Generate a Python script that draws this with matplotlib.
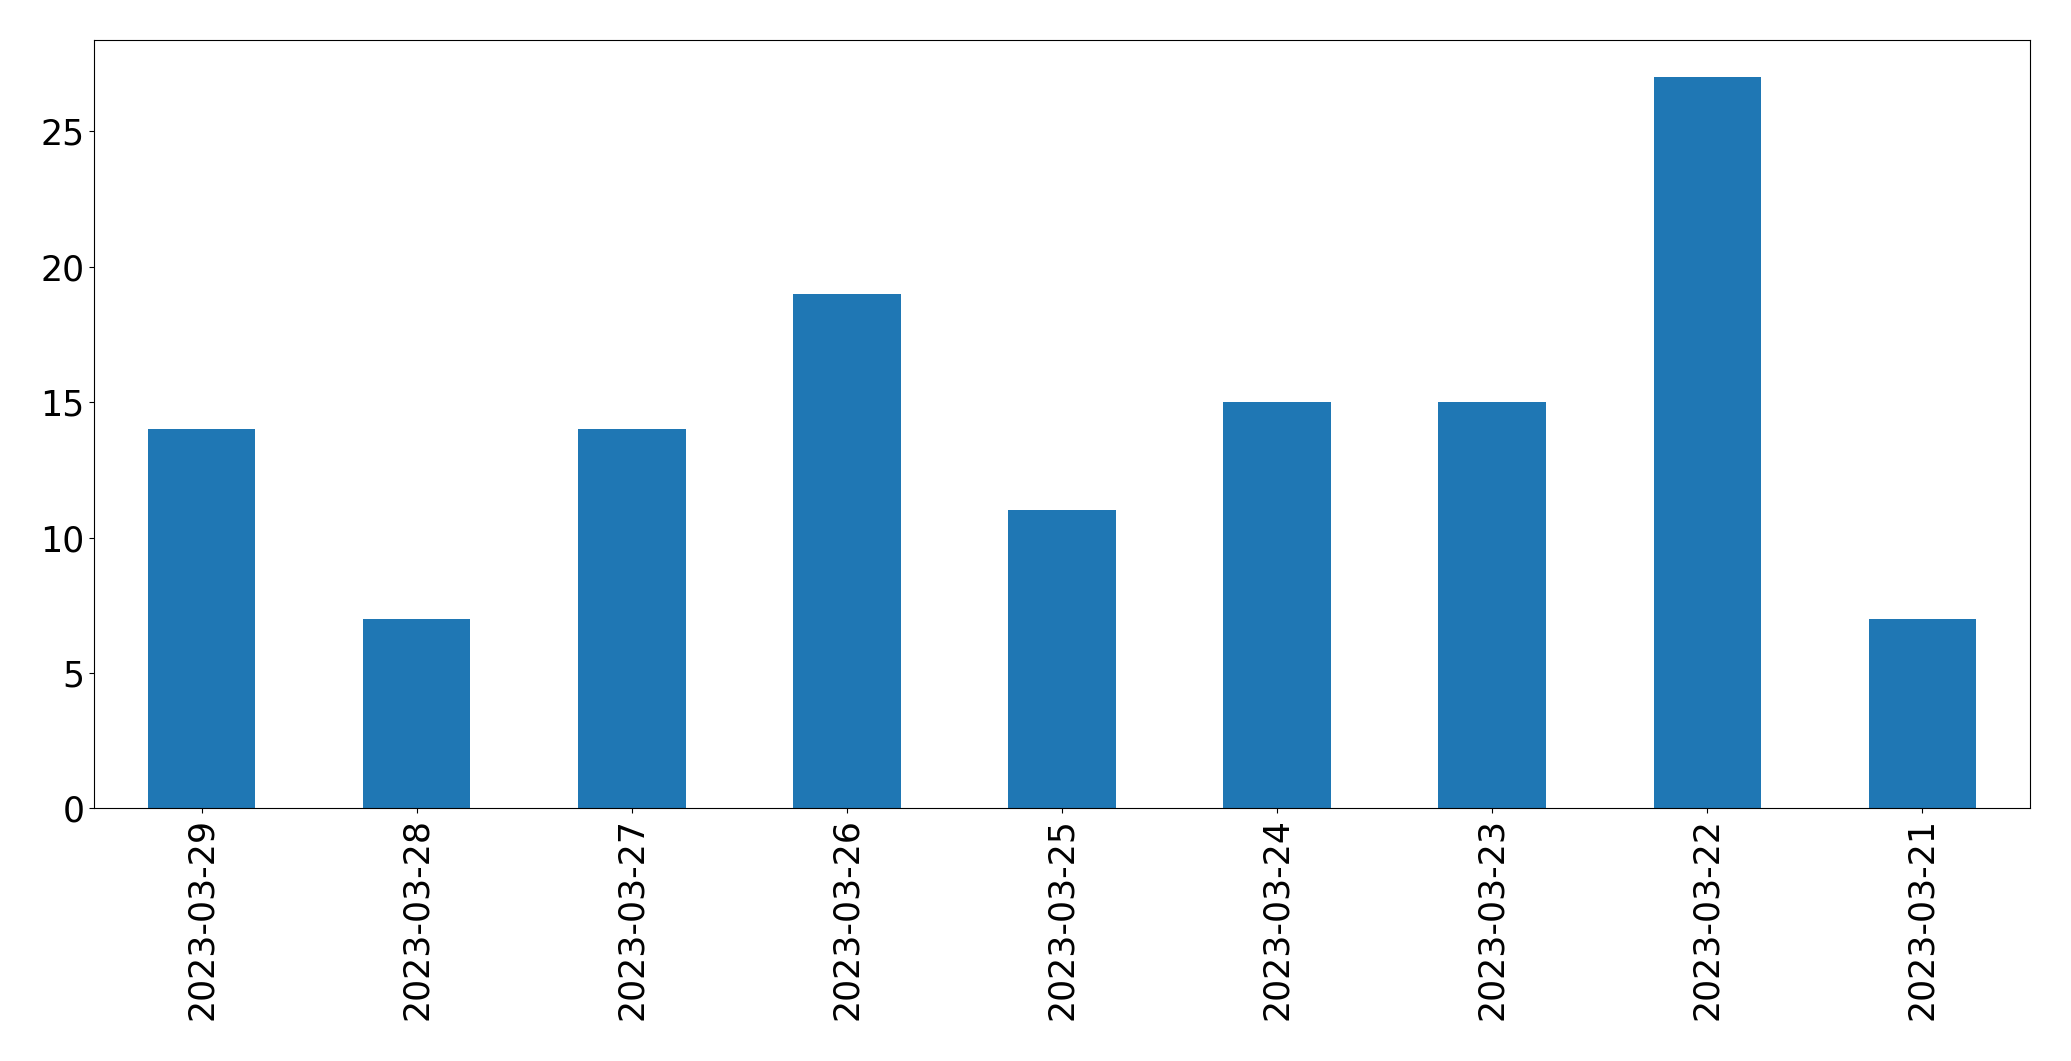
import matplotlib
matplotlib.use("Agg")
import matplotlib.pyplot as plt
import numpy as np

# dates as they appear on the x axis (newest first)
dates = ["2023-03-29", "2023-03-28", "2023-03-27", "2023-03-26", "2023-03-25",
         "2023-03-24", "2023-03-23", "2023-03-22", "2023-03-21"]
counts = [14, 7, 14, 19, 11, 15, 15, 27, 7]

fig = plt.figure(figsize=(20.71, 10.61), dpi=100)
ax = fig.add_axes([0.0454, 0.238, 0.9348, 0.724])

x = np.arange(len(dates))
ax.bar(x, counts, width=0.5, color="#1f77b4")

ax.set_xlim(-0.5, len(dates) - 0.5)
ax.set_ylim(0, max(counts) * 1.05)
ax.set_xticks(x)
ax.set_xticklabels(dates, rotation=90)
ax.tick_params(axis="both", labelsize=25)

fig.savefig("out.png", dpi=100)
